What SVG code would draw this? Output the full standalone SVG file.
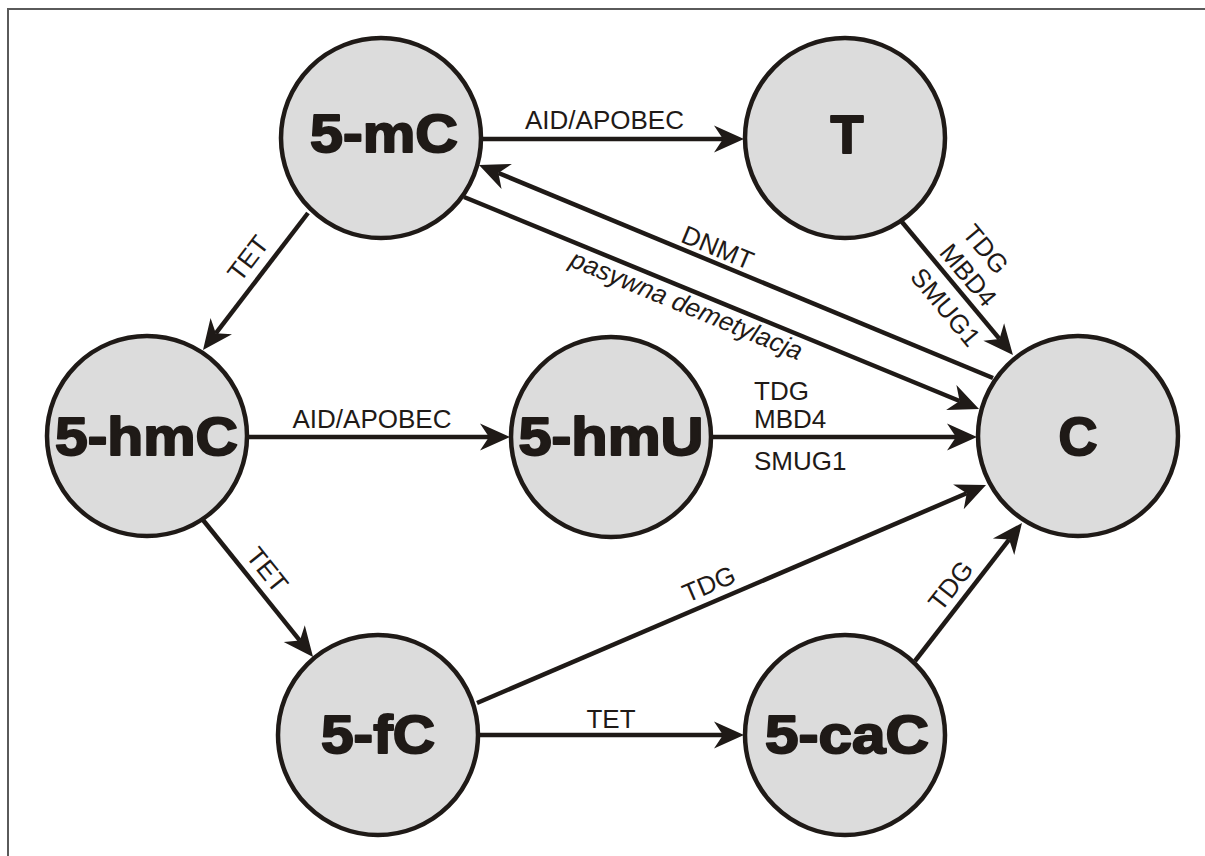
<svg xmlns="http://www.w3.org/2000/svg" width="1205" height="856" viewBox="0 0 1205 856">
<style>
.node circle{fill:#dcdcdc;stroke:#1f1a17;stroke-width:4.5}
.node text{font-family:"Liberation Sans",Arial,sans-serif;font-weight:bold;font-size:54px;fill:#1f1a17;stroke:#1f1a17;stroke-width:2;stroke-linejoin:round;text-anchor:middle}
.edge{stroke:#1f1a17;stroke-width:4.5;fill:none;marker-end:url(#ah)}
.lbl{font-family:"Liberation Sans",Arial,sans-serif;font-size:26px;fill:#1f1a17}
.mid{text-anchor:middle}
</style>
<defs>
<marker id="ah" markerUnits="userSpaceOnUse" markerWidth="40" markerHeight="30" refX="0" refY="0" orient="auto" overflow="visible">
<path d="M21,0 L-9,-13.5 L0,0 L-9,13.5 Z" fill="#1f1a17"/>
</marker>
</defs>
<rect width="1205" height="856" fill="#ffffff"/>
<path d="M8,856 V9 H1205" fill="none" stroke="#5a5a5a" stroke-width="2"/>

<g id="connectors">
<line class="edge" x1="482" y1="139" x2="723" y2="139"/>
<line class="edge" x1="993" y1="378" x2="498.4" y2="173"/>
<line class="edge" x1="464" y1="197" x2="959.6" y2="401"/>
<line class="edge" x1="902" y1="222" x2="999.5" y2="338.9"/>
<line class="edge" x1="308" y1="213" x2="215.8" y2="333.3"/>
<line class="edge" x1="247" y1="437" x2="489" y2="437"/>
<line class="edge" x1="711" y1="437" x2="956" y2="437"/>
<line class="edge" x1="203" y1="520" x2="299.9" y2="640.6"/>
<line class="edge" x1="477" y1="703" x2="966.7" y2="493.3"/>
<line class="edge" x1="478" y1="735" x2="723" y2="735"/>
<line class="edge" x1="915" y1="661" x2="1009.1" y2="539.6"/>

<text class="lbl mid" x="604.5" y="129">AID/APOBEC</text>
<text class="lbl mid" transform="translate(712,261.5) rotate(22.5)" y="-6">DNMT</text>
<text class="lbl mid" font-style="italic" transform="translate(692.4,291) rotate(22.4)" y="24">pasywna demetylacja</text>
<g transform="translate(902,222) rotate(50.2)">
<text class="lbl" x="47" y="-38">TDG</text>
<text class="lbl" x="47" y="-8">MBD4</text>
<text class="lbl" x="47" y="30">SMUG1</text>
</g>
<text class="lbl mid" transform="translate(264,270.4) rotate(-52.6)" y="-11">TET</text>
<text class="lbl mid" x="372" y="428">AID/APOBEC</text>
<text class="lbl" x="754" y="400">TDG</text>
<text class="lbl" x="754" y="428">MBD4</text>
<text class="lbl" x="754" y="470">SMUG1</text>
<text class="lbl mid" transform="translate(252.5,581.7) rotate(51.3)" y="-10">TET</text>
<text class="lbl mid" transform="translate(716,600.5) rotate(-23.2)" y="-9">TDG</text>
<text class="lbl mid" x="611" y="728">TET</text>
<text class="lbl mid" transform="translate(964.9,596.7) rotate(-52.2)" y="-9">TDG</text>
</g>

<g id="n5mC" class="node"><circle cx="381" cy="138" r="100"/><text x="384" y="152" textLength="148" lengthAdjust="spacingAndGlyphs">5-mC</text></g>
<g id="nT" class="node"><circle cx="845" cy="138" r="100"/><text x="847" y="153">T</text></g>
<g id="n5hmC" class="node"><circle cx="147" cy="436" r="100"/><text x="146.5" y="455" textLength="183" lengthAdjust="spacingAndGlyphs">5-hmC</text></g>
<g id="n5hmU" class="node"><circle cx="611" cy="437" r="100"/><text x="611" y="455" textLength="185" lengthAdjust="spacingAndGlyphs">5-hmU</text></g>
<g id="nC" class="node"><circle cx="1078" cy="436" r="100"/><text x="1078" y="455">C</text></g>
<g id="n5fC" class="node"><circle cx="378" cy="735" r="100"/><text x="378" y="753" textLength="114" lengthAdjust="spacingAndGlyphs">5-fC</text></g>
<g id="n5caC" class="node"><circle cx="845" cy="735" r="100"/><text x="847" y="753" textLength="164" lengthAdjust="spacingAndGlyphs">5-caC</text></g>
</svg>
